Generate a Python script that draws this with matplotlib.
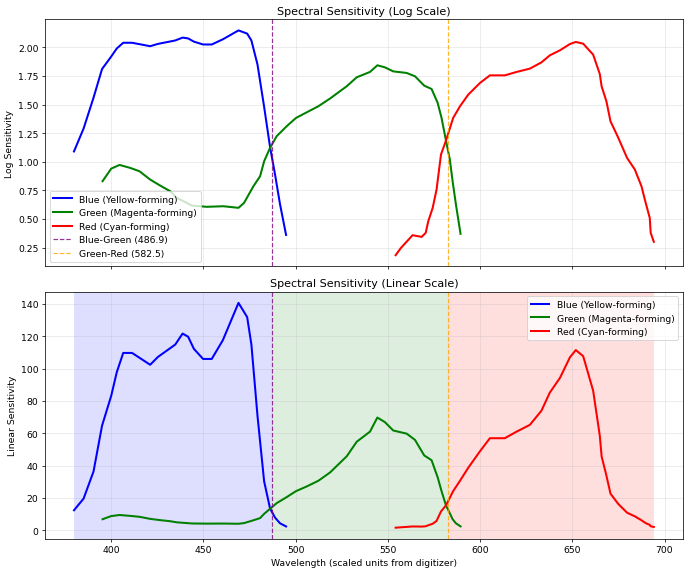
import numpy as np
import matplotlib.pyplot as plt

# Curvas digitalizadas (longitud de onda, log de sensibilidad)
blue_wl = [379.8, 385.0, 390.4, 395.0, 400.0, 403.0, 406.5, 411.3, 421.1, 425.3,
           434.7, 438.7, 441.7, 444.8, 449.8, 454.5, 460.5, 469.0, 473.7, 476.0,
           479.3, 482.9, 486.1, 488.8, 491.5, 494.8]
blue_log = [1.09, 1.29, 1.56, 1.81, 1.92, 1.99, 2.04, 2.04, 2.01, 2.03,
            2.06, 2.085, 2.078, 2.05, 2.025, 2.025, 2.07, 2.148, 2.12, 2.06,
            1.85, 1.48, 1.13, 0.89, 0.63, 0.36]

green_wl = [395.3, 400.0, 404.5, 410.3, 415.3, 421.1, 426.5, 432.0, 435.6, 443.7,
            451.8, 460.8, 469.0, 472.0, 477.1, 480.7, 482.9, 486.1, 489.7, 495.1,
            500.2, 506.0, 512.3, 518.6, 527.7, 533.1, 540.3, 544.3, 548.4, 552.9,
            560.2, 564.7, 569.7, 573.7, 577.0, 579.1, 581.5, 583.6, 585.1, 586.9,
            589.4]
green_log = [0.83, 0.94, 0.972, 0.946, 0.917, 0.844, 0.792, 0.742, 0.684, 0.617,
             0.606, 0.611, 0.597, 0.64, 0.786, 0.873, 1.004, 1.121, 1.223, 1.31,
             1.383, 1.432, 1.485, 1.552, 1.66, 1.738, 1.785, 1.843, 1.825, 1.79,
             1.776, 1.747, 1.665, 1.636, 1.514, 1.383, 1.185, 1.019, 0.83, 0.626,
             0.37]

red_wl = [554.2, 557.1, 563.4, 568.3, 570.5, 571.9, 574.3, 576.4, 578.8, 581.5,
          585.4, 589.1, 593.6, 599.9, 605.3, 613.4, 619.8, 627.0, 633.3, 637.8,
          643.3, 648.7, 651.9, 655.9, 661.3, 664.9, 665.9, 668.5, 670.7, 674.8,
          679.7, 683.9, 687.5, 689.8, 692.0, 692.5, 694.2]
red_log = [0.183, 0.247, 0.358, 0.343, 0.378, 0.48, 0.597, 0.757, 1.063, 1.185,
           1.383, 1.485, 1.587, 1.688, 1.755, 1.755, 1.785, 1.814, 1.869, 1.93,
           1.974, 2.029, 2.047, 2.032, 1.936, 1.767, 1.659, 1.528, 1.354, 1.214,
           1.033, 0.932, 0.786, 0.64, 0.509, 0.378, 0.30]

# Puntos de cruce
bg_cross = 486.9
gr_cross = 582.5

blue_lin = 10 ** np.array(blue_log)
green_lin = 10 ** np.array(green_log)
red_lin = 10 ** np.array(red_log)

fig, (ax1, ax2) = plt.subplots(2, 1, figsize=(10.33, 8.62), sharex=True)

# Escala logaritmica
ax1.plot(blue_wl, blue_log, color='blue', linewidth=2.2, label='Blue (Yellow-forming)')
ax1.plot(green_wl, green_log, color='green', linewidth=2.2, label='Green (Magenta-forming)')
ax1.plot(red_wl, red_log, color='red', linewidth=2.2, label='Red (Cyan-forming)')
ax1.axvline(bg_cross, color='purple', linestyle='--', linewidth=1.3, alpha=0.8,
            label=f'Blue-Green ({bg_cross})')
ax1.axvline(gr_cross, color='orange', linestyle='--', linewidth=1.3, alpha=0.8,
            label=f'Green-Red ({gr_cross})')
ax1.set_title('Spectral Sensitivity (Log Scale)')
ax1.set_ylabel('Log Sensitivity')
ax1.grid(alpha=0.3)
ax1.legend(loc='lower left')

# Escala lineal
ax2.plot(blue_wl, blue_lin, color='blue', linewidth=2.2, label='Blue (Yellow-forming)')
ax2.plot(green_wl, green_lin, color='green', linewidth=2.2, label='Green (Magenta-forming)')
ax2.plot(red_wl, red_lin, color='red', linewidth=2.2, label='Red (Cyan-forming)')
ax2.axvline(bg_cross, color='purple', linestyle='--', linewidth=1.3, alpha=0.8)
ax2.axvline(gr_cross, color='orange', linestyle='--', linewidth=1.3, alpha=0.8)
ax2.axvspan(min(blue_wl), bg_cross, color='blue', alpha=0.13, linewidth=0)
ax2.axvspan(bg_cross, gr_cross, color='green', alpha=0.13, linewidth=0)
ax2.axvspan(gr_cross, max(red_wl), color='red', alpha=0.13, linewidth=0)
ax2.set_title('Spectral Sensitivity (Linear Scale)')
ax2.set_xlabel('Wavelength (scaled units from digitizer)')
ax2.set_ylabel('Linear Sensitivity')
ax2.grid(alpha=0.3)
ax2.legend(loc='upper right')

plt.subplots_adjust(left=0.0653, right=0.991, top=0.965, bottom=0.061, hspace=0.102)
plt.savefig('out.png', dpi=66.7)
